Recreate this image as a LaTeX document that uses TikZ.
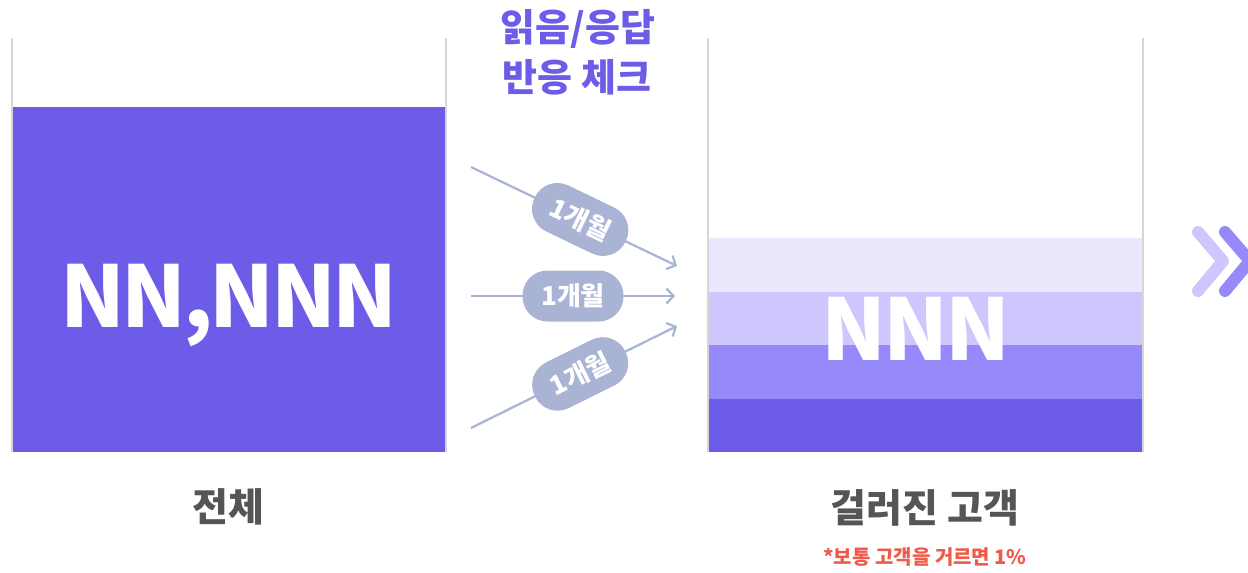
\documentclass[tikz,border=0pt]{standalone}
\usepackage{fontspec}
\newfontfamily\kr{Noto Sans CJK KR}
\usetikzlibrary{arrows.meta}
\definecolor{pmain}{HTML}{6C5CE7}
\definecolor{pband1}{HTML}{EBE8FD}
\definecolor{pband2}{HTML}{CDC7FD}
\definecolor{pband3}{HTML}{9689FA}
\definecolor{wallgray}{HTML}{D6D6D6}
\definecolor{arrowc}{HTML}{A9B3D3}
\definecolor{labgray}{HTML}{555555}
\definecolor{notered}{HTML}{F05A4B}
\tikzset{
  wall/.style={draw=wallgray, line width=2.2pt},
  conn/.style={draw=arrowc, line width=2.2pt, -{Straight Barb[length=7pt,width=15pt,line width=2.2pt]}},
  pill/.style={fill=arrowc, rounded corners=25pt, minimum width=101pt, minimum height=51pt, inner sep=0pt, text=white, font=\kr\bfseries\fontsize{26}{26}\selectfont},
  bignum/.style={text=white, font=\kr\bfseries\fontsize{85}{85}\selectfont\addfontfeatures{LetterSpace=-4}, inner sep=0pt, anchor=base},
  caption/.style={text=labgray, font=\kr\bfseries\fontsize{39}{39}\selectfont, inner sep=0pt},
  titletext/.style={text=pmain, font=\kr\bfseries\fontsize{38}{38}\selectfont, inner sep=0pt},
  chev/.style={line width=12pt, line cap=round, line join=round}
}
\begin{document}
\begin{tikzpicture}[x=1pt,y=-1pt]
\useasboundingbox (0,0) rectangle (1248,573);
% left container
\fill[pmain] (12,107) rectangle (446,452);
\draw[wall] (12,38) -- (12,452);
\draw[wall] (446,38) -- (446,452);
\node[bignum] (total) at (229,327) {NN,NNN};
\node[caption] (totlab) at (228,507) {전체};
% right container
\fill[pband1] (708,238) rectangle (1143,292);
\fill[pband2] (708,292) rectangle (1143,345);
\fill[pband3] (708,345) rectangle (1143,399);
\fill[pmain] (708,399) rectangle (1143,452);
\draw[wall] (708,38) -- (708,452);
\draw[wall] (1143,38) -- (1143,452);
\node[bignum] (filt) at (916,360) {NNN};
\node[caption] (filtlab) at (925,508) {걸러진 고객};
\node[text=notered, font=\kr\bfseries\fontsize{20}{20}\selectfont, inner sep=0pt] (note) at (925,557) {*보통 고객을 거르면 1\%};
% top title
\node[titletext] (title1) at (578,29) {읽음/응답};
\node[titletext] (title2) at (577,77) {반응 체크};
% arrows
\coordinate (s1) at (471,167);
\coordinate (e1) at (677,266);
\coordinate (s2) at (471,296);
\coordinate (e2) at (675,296);
\coordinate (s3) at (471,428);
\coordinate (e3) at (677,326);
\draw[conn] (s1) -- (e1) node[pill, sloped, pos=0.53] (p1) {1개월};
\draw[conn] (s2) -- (e2) node[pill, pos=0.5] (p2) {1개월};
\draw[conn] (s3) -- (e3) node[pill, sloped, pos=0.53] (p3) {1개월};
% chevrons
\coordinate (c1a) at (1198,232);
\coordinate (c1b) at (1223,261);
\coordinate (c1c) at (1198,291);
\coordinate (c2a) at (1225,232);
\coordinate (c2b) at (1250,261);
\coordinate (c2c) at (1225,291);
\draw[chev, draw=pband2] (c1a) -- (c1b) -- (c1c);
\draw[chev, draw=pband3] (c2a) -- (c2b) -- (c2c);
\end{tikzpicture}
\end{document}
